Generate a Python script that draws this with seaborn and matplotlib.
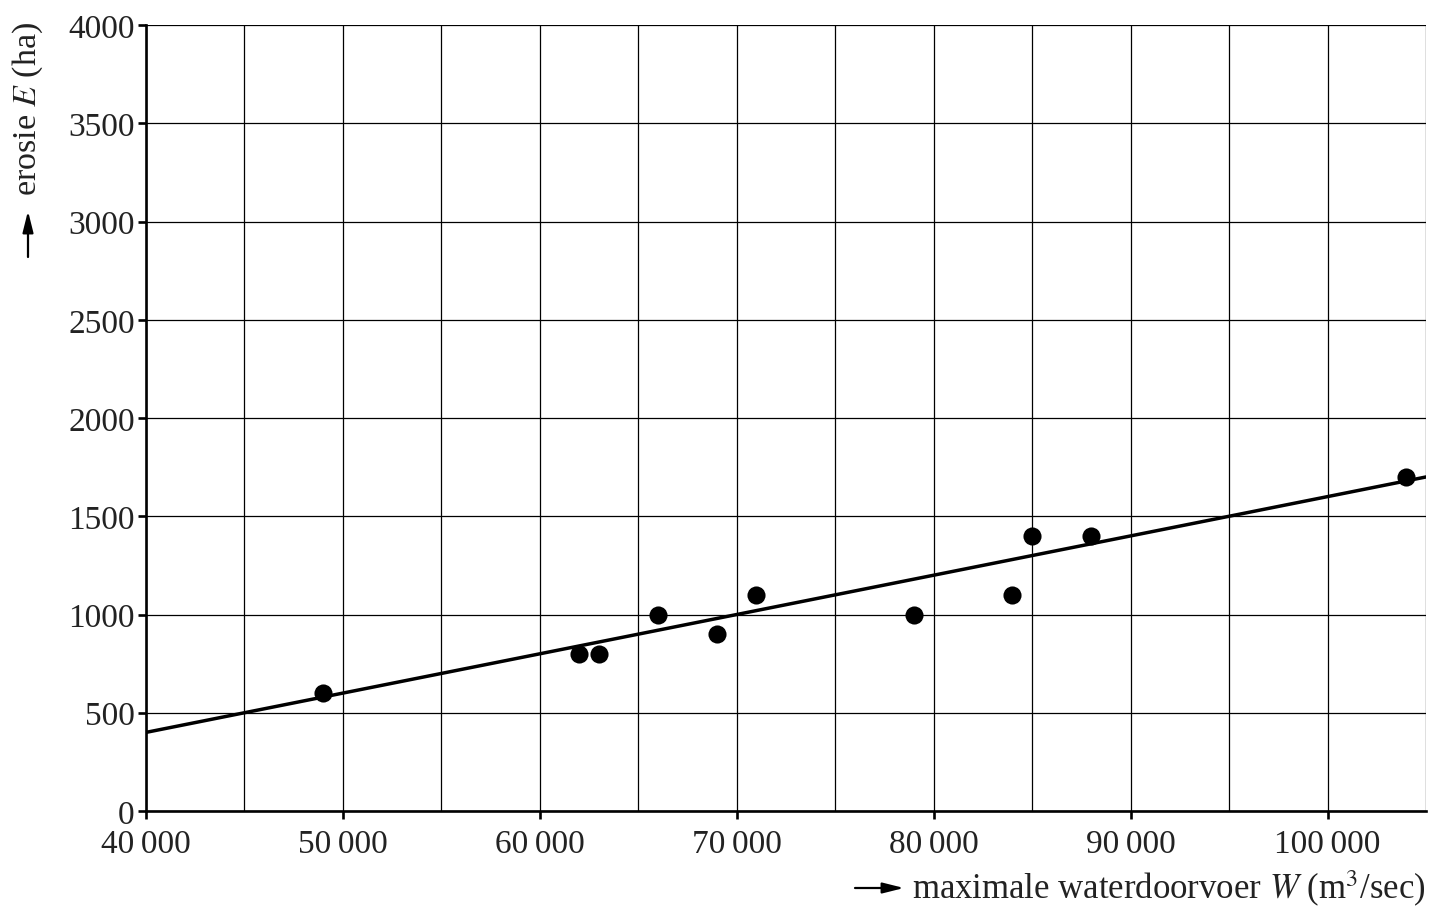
import numpy as np
import pandas as pd
import matplotlib
matplotlib.use('Agg')
import matplotlib.pyplot as plt
from matplotlib.patches import FancyArrowPatch
from matplotlib.ticker import MultipleLocator, FuncFormatter
import seaborn as sns

# meetpunten (waterdoorvoer W in m3/sec, erosie E in ha)
waterdoorvoer = [49000, 62000, 63000, 66000, 69000, 71000, 79000, 84000, 85000, 88000, 104000]
erosie = [600, 800, 800, 1000, 900, 1100, 1000, 1100, 1400, 1400, 1700]

lijn_w = [40000, 105000]
lijn_e = [400, 1700]

df = pd.DataFrame({'W': waterdoorvoer, 'E': erosie})
df_lijn = pd.DataFrame({'W': lijn_w, 'E': lijn_e})

sns.set_theme(style='white')
plt.rcParams['font.family'] = ['Liberation Serif', 'DejaVu Serif']
plt.rcParams['mathtext.fontset'] = 'stix'

fig = plt.figure(figsize=(14.41, 9.2), dpi=100)
ax = fig.add_axes([0.1013, 0.1174, 0.8883, 0.8543])

sns.lineplot(data=df_lijn, x='W', y='E', ax=ax, color='black', linewidth=2.5, zorder=3)
sns.scatterplot(data=df, x='W', y='E', ax=ax, color='black', s=170, edgecolor='black', linewidth=0, zorder=4)

ax.set_xlim(40000, 105000)
ax.set_ylim(0, 4000)
ax.xaxis.set_major_locator(MultipleLocator(10000))
ax.xaxis.set_minor_locator(MultipleLocator(5000))
ax.yaxis.set_major_locator(MultipleLocator(500))
ax.xaxis.set_major_formatter(FuncFormatter(lambda v, p: f'{int(v):,}'.replace(',', '\u2009')))

ax.grid(True, which='both', color='black', linewidth=0.9)
ax.set_axisbelow(True)

for side in ['top', 'right']:
    ax.spines[side].set_visible(False)
for side in ['left', 'bottom']:
    ax.spines[side].set_color('black')
    ax.spines[side].set_linewidth(1.9)
    ax.spines[side].set_zorder(5)

ax.tick_params(axis='both', which='major', direction='out', length=6, width=1.9, color='black',
               labelsize=24, labelcolor='#222222', left=True, bottom=True)
ax.tick_params(axis='y', which='major', pad=2)
ax.tick_params(axis='x', which='major', pad=6.5)
ax.tick_params(axis='x', which='minor', length=0)

ax.set_xlabel('')
ax.set_ylabel('')

# aslabels met pijlen
fig.text(0.9896, 0.034, 'maximale waterdoorvoer $W$ (m$^3$/sec)', ha='right', va='center',
         fontsize=25, color='#222222')
fig.text(0.0195, 0.787, 'erosie $E$ (ha)', ha='center', va='bottom', rotation=90,
         fontsize=24.5, color='#222222')
pijl = dict(arrowstyle='-|>,head_length=0.8,head_width=0.2', mutation_scale=16, color='black',
            lw=1.6, shrinkA=0, shrinkB=0, transform=fig.transFigure)
fig.add_artist(FancyArrowPatch((855 / 1441, 1 - 889 / 920), (904 / 1441, 1 - 889 / 920), **pijl))
fig.add_artist(FancyArrowPatch((28 / 1441, 1 - 258 / 920), (28 / 1441, 1 - 212 / 920), **pijl))

plt.savefig('out.png', dpi=100)
plt.close()
